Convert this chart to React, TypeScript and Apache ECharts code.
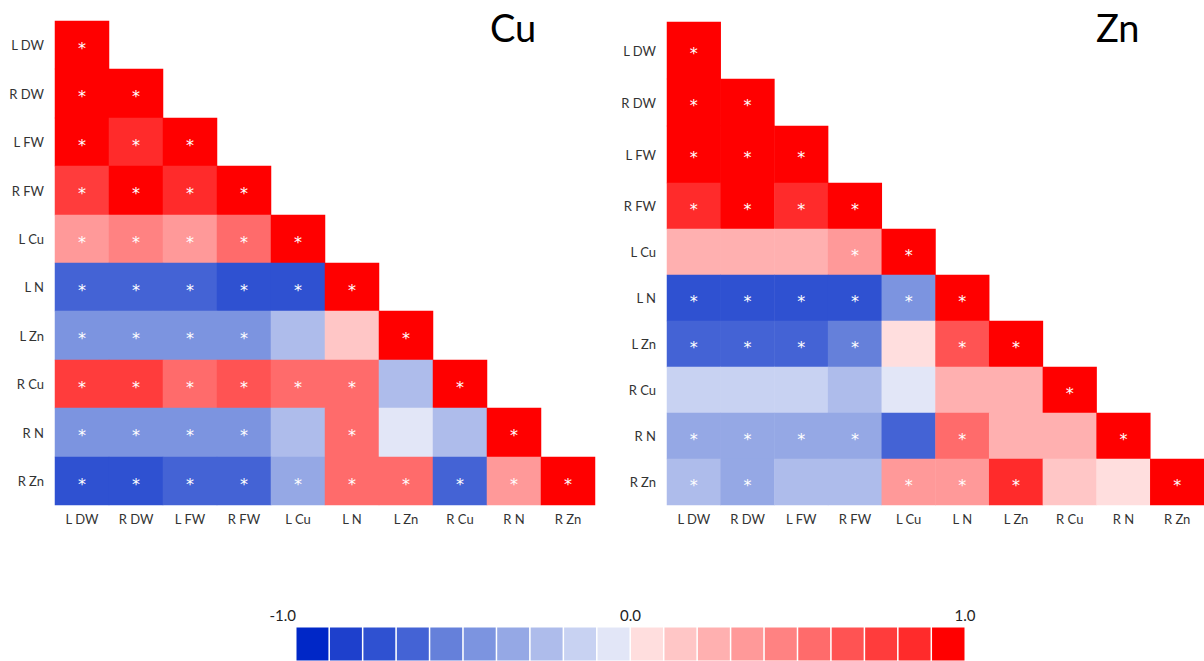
import React, { useEffect, useRef } from "react";
import * as echarts from "echarts";

// ---------- data ----------
const VARS = ["L DW", "R DW", "L FW", "R FW", "L Cu", "L N", "L Zn", "R Cu", "R N", "R Zn"];

// lower-triangle correlation coefficients (row i, columns 0..i)
const CU_R: number[][] = [
  [1],
  [0.95, 1],
  [0.95, 0.85, 1],
  [0.78, 0.95, 0.82, 1],
  [0.35, 0.45, 0.32, 0.55, 1],
  [-0.65, -0.65, -0.65, -0.75, -0.72, 1],
  [-0.45, -0.45, -0.45, -0.45, -0.25, 0.15, 1],
  [0.72, 0.72, 0.58, 0.68, 0.52, 0.58, -0.25, 1],
  [-0.45, -0.45, -0.45, -0.45, -0.25, 0.58, -0.05, -0.25, 1],
  [-0.75, -0.78, -0.65, -0.65, -0.35, 0.58, 0.58, -0.65, 0.35, 1],
];
const CU_SIG: number[][] = [
  [1],
  [1, 1],
  [1, 1, 1],
  [1, 1, 1, 1],
  [1, 1, 1, 1, 1],
  [1, 1, 1, 1, 1, 1],
  [1, 1, 1, 1, 0, 0, 1],
  [1, 1, 1, 1, 1, 1, 0, 1],
  [1, 1, 1, 1, 0, 1, 0, 0, 1],
  [1, 1, 1, 1, 1, 1, 1, 1, 1, 1],
];

const ZN_R: number[][] = [
  [1],
  [0.95, 1],
  [0.95, 0.95, 1],
  [0.82, 0.95, 0.82, 1],
  [0.25, 0.25, 0.25, 0.35, 1],
  [-0.75, -0.75, -0.75, -0.75, -0.45, 1],
  [-0.65, -0.65, -0.65, -0.55, 0.05, 0.68, 1],
  [-0.15, -0.15, -0.15, -0.25, -0.05, 0.25, 0.25, 1],
  [-0.35, -0.35, -0.35, -0.35, -0.65, 0.58, 0.25, 0.25, 1],
  [-0.25, -0.35, -0.25, -0.25, 0.35, 0.35, 0.82, 0.15, 0.05, 1],
];
const ZN_SIG: number[][] = [
  [1],
  [1, 1],
  [1, 1, 1],
  [1, 1, 1, 1],
  [0, 0, 0, 1, 1],
  [1, 1, 1, 1, 1, 1],
  [1, 1, 1, 1, 0, 1, 1],
  [0, 0, 0, 0, 0, 0, 0, 1],
  [1, 1, 1, 1, 0, 1, 0, 0, 1],
  [1, 1, 0, 0, 1, 1, 1, 0, 0, 1],
];

const PALETTE = [
  "#0027C7", "#1E40CC", "#2F51D1", "#4463D5", "#6580DA",
  "#7C94E0", "#95A8E5", "#AEBCEB", "#C8D2F2", "#E2E6F7",
  "#FFDEDE", "#FFC6C6", "#FFB0B0", "#FF9999", "#FF8282",
  "#FF6B6B", "#FF5353", "#FF3C3C", "#FF2B2B", "#FF0000",
];
const BAR_VALUES = [
  -0.95, -0.85, -0.75, -0.65, -0.55, -0.45, -0.35, -0.25, -0.15, -0.05,
  0.05, 0.15, 0.25, 0.35, 0.45, 0.55, 0.65, 0.75, 0.85, 0.95,
];
const BAR_TICK_MIN = -1;
const BAR_TICK_MAX = 1;
const BAR_TICK_STEP = 1;

// ---------- layout ----------
const LABEL_FONT = "Lato, 'Noto Sans', sans-serif";
const CU_LAYOUT = { left: 55, colW: 54, edges: [21, 69, 118, 166, 215, 263, 311, 360, 408, 457, 505] };
const ZN_LAYOUT = { left: 667, colW: 54, edges: [22, 79, 126, 183, 229, 275, 321, 367, 413, 459, 505] };

function buildPanel(R: number[][], SIG: number[][], layout: any, grids: any[], xAxes: any[], yAxes: any[], series: any[]) {
  const n = VARS.length;
  for (let i = 0; i < n; i++) {
    const gi = grids.length;
    grids.push({
      left: layout.left,
      top: layout.edges[i],
      width: layout.colW * n,
      height: layout.edges[i + 1] - layout.edges[i],
      containLabel: false,
    });
    xAxes.push({
      gridIndex: gi,
      type: "category",
      data: VARS,
      axisLine: { show: false },
      axisTick: { show: false },
      splitArea: { show: false },
      axisLabel: { show: i === n - 1, fontSize: 13, color: "#333", margin: 7, fontFamily: LABEL_FONT },
    });
    yAxes.push({
      gridIndex: gi,
      type: "category",
      data: [VARS[i]],
      axisLine: { show: false },
      axisTick: { show: false },
      splitArea: { show: false },
      axisLabel: { fontSize: 13, color: "#333", margin: 11, fontFamily: LABEL_FONT },
    });
    series.push({
      type: "heatmap",
      xAxisIndex: gi,
      yAxisIndex: gi,
      data: R[i].map((v, j) => ({ value: [j, 0, v], star: SIG[i][j] === 1 })),
      label: {
        show: true,
        formatter: (p: any) => (p.data.star ? "*" : ""),
        color: "#ffffff",
        fontSize: 16,
        fontFamily: "'DejaVu Sans', sans-serif",
        offset: [0, 3],
      },
      itemStyle: { borderWidth: 0 },
      emphasis: { disabled: true },
    });
  }
}

export default function App() {
  const ref = useRef<HTMLDivElement>(null);
  useEffect(() => {
    if (!ref.current) return;
    document.body.style.margin = "0";
    const chart = echarts.init(ref.current, undefined, { renderer: "svg" });
    const grids: any[] = [];
    const xAxes: any[] = [];
    const yAxes: any[] = [];
    const series: any[] = [];
    buildPanel(CU_R, CU_SIG, CU_LAYOUT, grids, xAxes, yAxes, series);
    buildPanel(ZN_R, ZN_SIG, ZN_LAYOUT, grids, xAxes, yAxes, series);

    // colour bar
    const bi = grids.length;
    grids.push({ left: 296, top: 627, width: 669, height: 44 });
    xAxes.push({
      gridIndex: bi,
      type: "category",
      data: BAR_VALUES.map((v) => String(v)),
      show: false,
    });
    xAxes.push({
      gridIndex: bi,
      type: "value",
      position: "top",
      min: BAR_TICK_MIN,
      max: BAR_TICK_MAX,
      interval: BAR_TICK_STEP,
      axisLine: { show: false },
      axisTick: { show: false },
      splitLine: { show: false },
      axisLabel: {
        formatter: (v: number) => v.toFixed(1),
        fontSize: 15,
        color: "#222",
        margin: 5,
        fontFamily: LABEL_FONT,
        alignMinLabel: "right",
        alignMaxLabel: "center",
      },
    });
    yAxes.push({ gridIndex: bi, type: "category", data: [""], show: false });
    series.push({
      type: "heatmap",
      xAxisIndex: bi,
      yAxisIndex: bi,
      data: BAR_VALUES.map((v, i) => [i, 0, v]),
      itemStyle: { borderColor: "#ffffff", borderWidth: 1.5 },
      emphasis: { disabled: true },
    });

    const heatIdx = series.map((_, i) => i);
    const pieces = PALETTE.map((c, i) => {
      const lo = Math.round((-1 + i * 0.1) * 10) / 10;
      const hi = Math.round((-1 + (i + 1) * 0.1) * 10) / 10;
      return i === PALETTE.length - 1 ? { gte: lo, lte: hi + 0.001, color: c } : { gte: lo, lt: hi, color: c };
    });

    chart.setOption({
      animation: false,
      backgroundColor: "#ffffff",
      title: [
        { text: "Cu", left: 485, top: 3, textStyle: { fontSize: 38, fontWeight: "normal", color: "#000", fontFamily: LABEL_FONT } },
        { text: "Zn", left: 1091, top: 3, textStyle: { fontSize: 38, fontWeight: "normal", color: "#000", fontFamily: LABEL_FONT } },
      ],
      tooltip: { show: false },
      visualMap: {
        type: "piecewise",
        show: false,
        dimension: 2,
        seriesIndex: heatIdx,
        pieces,
      },
      grid: grids,
      xAxis: xAxes,
      yAxis: yAxes,
      series,
    });
    return () => chart.dispose();
  }, []);
  return <div ref={ref} style={{ width: 1204, height: 661, background: "#fff" }} />;
}
